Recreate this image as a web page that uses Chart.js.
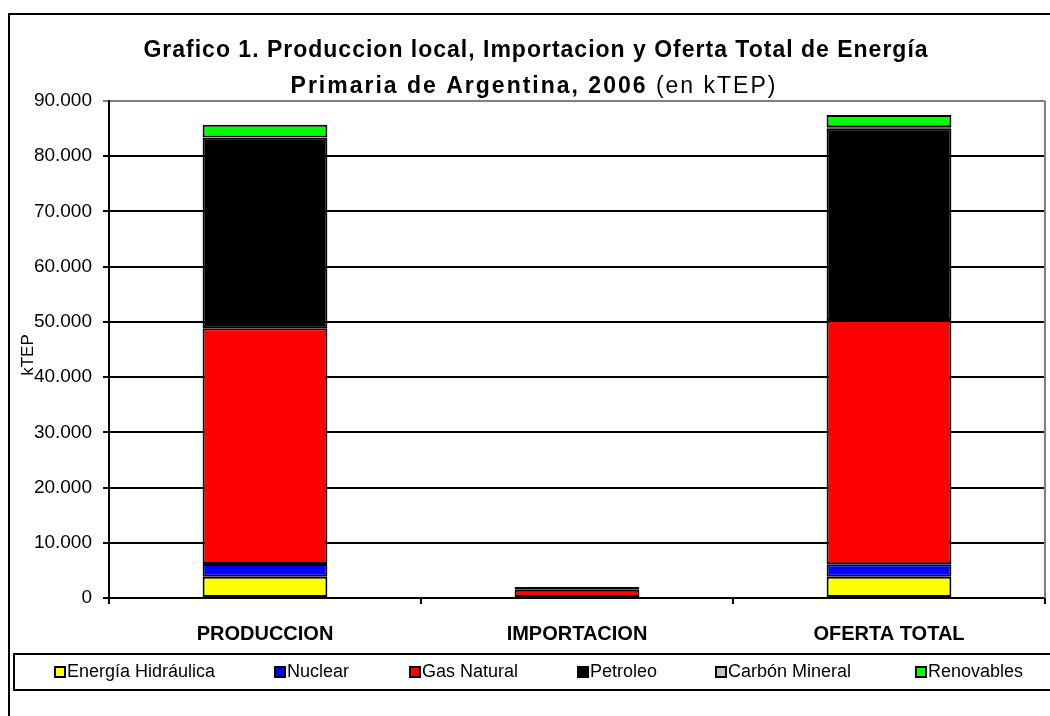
<!DOCTYPE html>
<html>
<head>
<meta charset="utf-8">
<script src="https://cdn.jsdelivr.net/npm/chart.js@4"></script>
<style>
  html, body { margin: 0; padding: 0; background: #fff; }
  #wrap { width: 1050px; height: 716px; position: relative; }
</style>
</head>
<body>
<div id="wrap"><canvas id="myChart" width="1050" height="716"></canvas></div>
<script>
const categorias = ['PRODUCCION', 'IMPORTACION', 'OFERTA TOTAL'];
const hidraulica = [3850, 0, 3850];
const nuclear = [2300, 0, 2250];
const gasNatural = [42700, 1500, 44250];
const carbon = [50, 0, 200];
const petroleo = [34500, 500, 34700];
const renovables = [2300, 0, 2200];
const yTicks = [0, 10000, 20000, 30000, 40000, 50000, 60000, 70000, 80000, 90000];

const FONT = '"Liberation Sans", Arial, sans-serif';
const legendX = [55, 275, 410, 578, 716, 916];

function miles(v) {
  return String(v).replace(/\B(?=(\d{3})+(?!\d))/g, '.');
}

const marco = {
  id: 'marco',
  afterDraw(chart) {
    const c = chart.ctx;
    const a = chart.chartArea;
    c.save();
    // outer frame
    c.strokeStyle = '#000';
    c.lineWidth = 2;
    c.beginPath();
    c.moveTo(9, 716);
    c.lineTo(9, 14);
    c.lineTo(1060, 14);
    c.stroke();
    // plot area right border
    c.strokeStyle = '#808080';
    c.beginPath();
    c.moveTo(a.right, a.top);
    c.lineTo(a.right, a.bottom);
    c.stroke();
    // legend
    c.strokeStyle = '#000';
    c.strokeRect(14, 654, 1060, 36);
    c.font = '18px ' + FONT;
    c.textBaseline = 'middle';
    c.textAlign = 'left';
    chart.data.datasets.forEach((d, i) => {
      const x = legendX[i];
      c.fillStyle = d.backgroundColor;
      c.fillRect(x, 667, 10, 10);
      c.strokeRect(x, 667, 10, 10);
      c.fillStyle = '#000';
      c.fillText(d.label, x + 12, 672);
    });
    // title
    c.fillStyle = '#000';
    c.letterSpacing = '1px';
    c.font = 'bold 23px ' + FONT;
    const t0 = 'Grafico 1. Produccion local, Importacion y Oferta Total de Energía';
    const w0 = c.measureText(t0).width;
    c.fillText(t0, 536 - w0 / 2, 51);
    c.letterSpacing = '2px';
    const t1 = 'Primaria de Argentina, 2006';
    const t2 = ' (en kTEP)';
    const w1 = c.measureText(t1).width;
    c.font = '23px ' + FONT;
    const w2 = c.measureText(t2).width;
    const x0 = 534 - (w1 + w2) / 2;
    c.font = 'bold 23px ' + FONT;
    c.fillText(t1, x0, 87);
    c.font = '23px ' + FONT;
    c.fillText(t2, x0 + w1, 87);
    c.letterSpacing = '0px';
    // y axis title
    c.translate(28, 355);
    c.rotate(-Math.PI / 2);
    c.textAlign = 'center';
    c.font = '17px ' + FONT;
    c.fillText('kTEP', 0, 0);
    c.restore();
  }
};

function serie(label, data, color) {
  return {
    label: label,
    data: data,
    backgroundColor: color,
    borderColor: '#000',
    borderWidth: 2,
    borderSkipped: false,
    categoryPercentage: 1,
    barPercentage: 0.4
  };
}

const ctx = document.getElementById('myChart');

new Chart(ctx, {
  type: 'bar',
  data: {
    labels: categorias,
    datasets: [
      serie('Energía Hidráulica', hidraulica, '#ffff00'),
      serie('Nuclear', nuclear, '#0000ff'),
      serie('Gas Natural', gasNatural, '#ff0000'),
      serie('Petroleo', petroleo, '#000000'),
      serie('Carbón Mineral', carbon, '#c0c0c0'),
      serie('Renovables', renovables, '#00ff00')
    ]
  },
  options: {
    responsive: false,
    animation: false,
    layout: { padding: { left: 0, right: 5, top: 101, bottom: 62 } },
    plugins: {
      title: { display: false },
      tooltip: { enabled: false },
      legend: { display: false }
    },
    scales: {
      x: {
        stacked: true,
        offset: true,
        grid: { offset: true, drawOnChartArea: false, color: '#000', lineWidth: 2, tickLength: 6 },
        border: { color: '#000', width: 2 },
        ticks: { color: '#000', padding: 18, font: { family: FONT, size: 20, weight: 'bold' } },
        afterFit(s) { s.height = 56; }
      },
      y: {
        stacked: true,
        min: 0,
        max: 90000,
        afterBuildTicks(s) { s.ticks = yTicks.map(v => ({ value: v })); },
        grid: {
          color: c => c.tick && c.tick.value === 90000 ? '#808080' : '#000',
          lineWidth: 2,
          tickLength: 6
        },
        border: { color: '#000', width: 2 },
        ticks: { color: '#000', padding: 11, font: { family: FONT, size: 19 }, callback: v => miles(v) },
        afterFit(s) { s.width = 109; }
      }
    }
  },
  plugins: [marco]
});
</script>
</body>
</html>
